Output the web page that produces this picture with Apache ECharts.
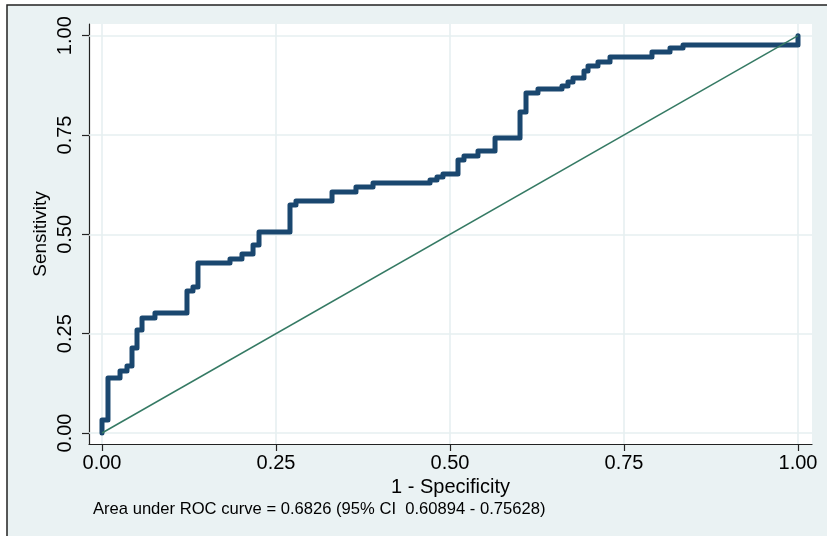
<!DOCTYPE html>
<html>
<head>
<meta charset="utf-8">
<script src="https://cdn.jsdelivr.net/npm/echarts@6.0.0/dist/echarts.min.js"></script>
<style>
  html, body { margin: 0; padding: 0; background: #ffffff; }
  #chart { width: 827px; height: 536px; }
</style>
</head>
<body>
<div id="chart"></div>
<script>
// ROC curve vertices (1 - specificity, sensitivity)
const fpr = [0, 0, 0.0086, 0.0086, 0.0259, 0.0259, 0.0359, 0.0359, 0.0431, 0.0431, 0.0503, 0.0503,
  0.0575, 0.0575, 0.0761, 0.0761, 0.1221, 0.1221, 0.1307, 0.1307, 0.1379, 0.1379, 0.1839, 0.1839,
  0.2011, 0.2011, 0.2170, 0.2170, 0.2256, 0.2256, 0.2701, 0.2701, 0.2787, 0.2787, 0.3305, 0.3305,
  0.3649, 0.3649, 0.3894, 0.3894, 0.4713, 0.4713, 0.4813, 0.4813, 0.4899, 0.4899, 0.5115, 0.5115,
  0.5201, 0.5201, 0.5402, 0.5402, 0.5647, 0.5647, 0.6006, 0.6006, 0.6092, 0.6092, 0.6264, 0.6264,
  0.6609, 0.6609, 0.6695, 0.6695, 0.6767, 0.6767, 0.6925, 0.6925, 0.6983, 0.6983, 0.7126, 0.7126,
  0.7299, 0.7299, 0.7902, 0.7902, 0.8161, 0.8161, 0.8348, 0.8348, 1.0, 1.0];
const tpr = [0, 0.0327, 0.0327, 0.1384, 0.1384, 0.1561, 0.1561, 0.1686, 0.1686, 0.2139, 0.2139, 0.2593,
  0.2593, 0.2895, 0.2895, 0.3020, 0.3020, 0.3574, 0.3574, 0.3675, 0.3675, 0.4279, 0.4279, 0.4380,
  0.4380, 0.4505, 0.4505, 0.4732, 0.4732, 0.5059, 0.5059, 0.5739, 0.5739, 0.5839, 0.5839, 0.6066,
  0.6066, 0.6192, 0.6192, 0.6292, 0.6292, 0.6368, 0.6368, 0.6444, 0.6444, 0.6519, 0.6519, 0.6871,
  0.6871, 0.6972, 0.6972, 0.7098, 0.7098, 0.7425, 0.7425, 0.8080, 0.8080, 0.8558, 0.8558, 0.8658,
  0.8658, 0.8734, 0.8734, 0.8835, 0.8835, 0.8935, 0.8935, 0.9112, 0.9112, 0.9237, 0.9237, 0.9338,
  0.9338, 0.9464, 0.9464, 0.9590, 0.9590, 0.9690, 0.9690, 0.9766, 0.9766, 1.0];
// Reference (chance) line
const refX = [0, 1];
const refY = [0, 1];
// Tick labels
const tickValues = [0, 0.25, 0.5, 0.75, 1];
const xTitle = '1 - Specificity';
const yTitle = 'Sensitivity';
const note = 'Area under ROC curve = 0.6826 (95% CI  0.60894 - 0.75628)';

const FONT = '"Liberation Sans", Arial, Helvetica, sans-serif';
const rocData = fpr.map((x, i) => [x, tpr[i]]);
const refData = refX.map((x, i) => [x, refY[i]]);
const gridData = tickValues.map(v => ({ xAxis: v })).concat(tickValues.map(v => ({ yAxis: v })));

const chart = echarts.init(document.getElementById('chart'), null, { renderer: 'canvas' });
chart.setOption({
  animation: false,
  backgroundColor: '#ffffff',
  graphic: [
    { type: 'rect', z: -10, silent: true,
      shape: { x: 7, y: 5, width: 830, height: 540 },
      style: { fill: '#eaf2f3', stroke: '#222222', lineWidth: 1.5 } },
    { type: 'text', left: 93, top: 501, silent: true,
      style: { text: note, font: '16.6px ' + FONT, fill: '#000000' } }
  ],
  grid: { left: 89, top: 24, width: 723, height: 420, show: true,
          backgroundColor: '#ffffff', borderWidth: 0 },
  xAxis: {
    type: 'value', min: -0.01868, max: 1.02011,
    name: xTitle, nameLocation: 'middle', nameGap: 31,
    nameTextStyle: { fontSize: 20, fontFamily: FONT, color: '#000' },
    axisLine: { show: true, onZero: false, lineStyle: { color: '#222', width: 1.2 } },
    axisTick: { show: true, length: 7, customValues: tickValues, lineStyle: { color: '#222', width: 1.2 } },
    axisLabel: { customValues: tickValues, margin: 9, fontSize: 20, fontFamily: FONT, color: '#000',
                 formatter: v => v.toFixed(2) },
    splitLine: { show: false }
  },
  yAxis: {
    type: 'value', min: -0.02769, max: 1.02945,
    name: yTitle, nameLocation: 'middle', nameGap: 39, nameRotate: 90, nameMoveOverlap: false,
    nameTextStyle: { fontSize: 19, fontFamily: FONT, color: '#000' },
    axisLine: { show: true, onZero: false, lineStyle: { color: '#222', width: 1.2 } },
    axisTick: { show: true, length: 7, customValues: tickValues, lineStyle: { color: '#222', width: 1.2 } },
    axisLabel: { customValues: tickValues, rotate: 90, margin: 14, fontSize: 20, fontFamily: FONT, color: '#000',
                 formatter: v => v.toFixed(2) },
    splitLine: { show: false }
  },
  series: [
    { type: 'line', z: 1, data: [[0, 0]], symbol: 'none', lineStyle: { width: 0 }, silent: true,
      markLine: { z: 1, silent: true, symbol: 'none', label: { show: false },
                  lineStyle: { color: '#e6eff1', width: 1.6, type: 'solid' }, data: gridData } },
    { type: 'line', z: 10, data: rocData, symbol: 'none', silent: true,
      lineStyle: { color: '#1a476f', width: 5, cap: 'round', join: 'round' } },
    { type: 'line', z: 11, data: refData, symbol: 'none', silent: true,
      lineStyle: { color: '#357a64', width: 1.5 } }
  ]
});
</script>
</body>
</html>
